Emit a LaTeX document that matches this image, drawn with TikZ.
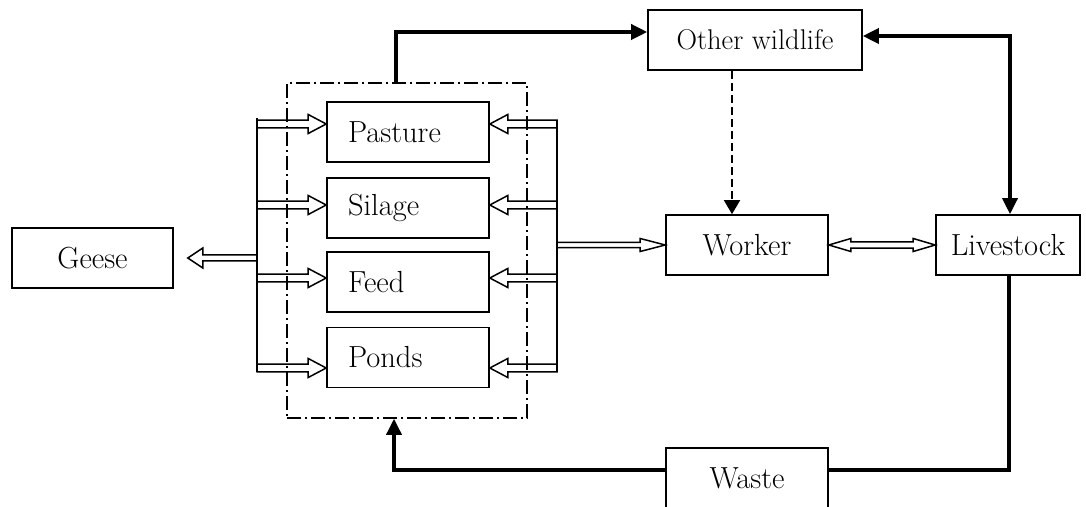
\documentclass[tikz,border=0pt]{standalone}
\usepackage{fontspec}
\usetikzlibrary{arrows.meta,calc}
\tikzset{
  box/.style={draw, line width=1.6pt, minimum height=60pt, inner sep=0pt, font=\fontsize{30.5}{36}\selectfont},
  lbox/.style={box, text width=120pt, align=left, inner xsep=21pt},
  hollowline/.style={draw, line width=1.5pt, line join=miter},
  thickline/.style={line width=3.5pt, line join=miter},
  flow/.style={thickline, -{Triangle[length=16pt,width=15pt]}},
  flowboth/.style={thickline, {Triangle[length=16pt,width=15pt]}-{Triangle[length=16pt,width=15pt]}},
  dashdot/.style={line width=1.5pt, dash pattern=on 14pt off 4pt on 2pt off 4pt},
  dasharrow/.style={line width=1.8pt, dash pattern=on 8pt off 4pt, -{Triangle[length=14pt,width=16pt]}}
}
% from, to, shaft half, head half, signed head length
\newcommand\hollowarrow[5]{%
  \draw[hollowline] let \p1=(#1), \p2=(#2) in
    ({\x1},{\y1+#3pt}) -- ({\x2+(#5pt)},{\y1+#3pt}) -- ({\x2+(#5pt)},{\y1+#4pt}) -- ({\x2},{\y1})
    -- ({\x2+(#5pt)},{\y1-#4pt}) -- ({\x2+(#5pt)},{\y1-#3pt}) -- ({\x1},{\y1-#3pt}) -- cycle;}
% from (left), to (right), shaft half, head half, head length
\newcommand\dblhollow[5]{%
  \draw[hollowline] let \p1=(#1), \p2=(#2) in
    ({\x1},{\y1}) -- ({\x1+#5pt},{\y1+#4pt}) -- ({\x1+#5pt},{\y1+#3pt}) -- ({\x2-#5pt},{\y1+#3pt})
    -- ({\x2-#5pt},{\y1+#4pt}) -- ({\x2},{\y1}) -- ({\x2-#5pt},{\y1-#4pt}) -- ({\x2-#5pt},{\y1-#3pt})
    -- ({\x1+#5pt},{\y1-#3pt}) -- ({\x1+#5pt},{\y1-#4pt}) -- cycle;}
\begin{document}
\begin{tikzpicture}[x=1pt,y=1pt]
\useasboundingbox (0,0) rectangle (1086,506);
% nodes
\node[box, minimum width=161pt] (geese) at (92.5,248) {Geese};
\node[lbox] (pasture) at (408,374) {Pasture};
\node[lbox] (silage) at (408,298) {Silage};
\node[lbox] (feed) at (408,224) {Feed};
\node[lbox] (ponds) at (408,148.5) {Ponds};
\node[box, minimum width=214pt, font=\fontsize{28.5}{34}\selectfont] (wild) at (755,466) {Other wildlife};
\node[box, minimum width=162pt] (worker) at (747,261) {Worker};
\node[box, minimum width=144pt] (live) at (1008,261) {Livestock};
\node[box, minimum width=162pt] (waste) at (747,28) {Waste};
% coordinates on the collector lines
\coordinate (l1) at (257,382); \coordinate (l2) at (257,301);
\coordinate (l3) at (257,228); \coordinate (l4) at (257,138);
\coordinate (r1) at (557,382); \coordinate (r2) at (557,301);
\coordinate (r3) at (557,228); \coordinate (r4) at (557,138);
\coordinate (gs) at (257,248);
% collector lines
\draw[line width=1.5pt] ($(l1)+(0,6)$) -- ($(l4)+(0,-4)$);
\draw[line width=1.5pt] ($(r1)+(0,4)$) -- ($(r4)+(0,-4)$);
% hollow arrows into group boxes
\hollowarrow{l1}{pasture.west}{3.8}{9.5}{-18}
\hollowarrow{l2}{silage.west}{3.8}{9.5}{-18}
\hollowarrow{l3}{feed.west}{3.8}{9.5}{-18}
\hollowarrow{l4}{ponds.west}{3.8}{9.5}{-18}
\hollowarrow{r1}{pasture.east}{3.8}{9.5}{18}
\hollowarrow{r2}{silage.east}{3.8}{9.5}{18}
\hollowarrow{r3}{feed.east}{3.8}{9.5}{18}
\hollowarrow{r4}{ponds.east}{3.8}{9.5}{18}
\hollowarrow{gs}{$(geese.east)+(14,0)$}{3}{10}{15}
\coordinate (wk) at (557,261);
\hollowarrow{wk}{worker.west}{2.6}{6.5}{-25}
\dblhollow{worker.east}{live.west}{3.2}{6.5}{22}
% dash-dot group frame
\node[draw, dashdot, minimum width=240pt, minimum height=335pt, inner sep=0pt] (group) at (407,255.5) {};
% thick flows
\coordinate (wj) at (396,474);
\draw[flow] (group.north -| wj) -- (wj) -- (wild.west |- wj);
\coordinate (lj) at (1010,470);
\draw[flowboth] (live.north -| lj) -- (lj) -- (wild.east |- lj);
\coordinate (bj) at (1009,36);
\draw[thickline] (live.south -| bj) -- (bj) -- (waste.east |- bj);
\coordinate (bk) at (394,36);
\draw[flow] (waste.west |- bk) -- (bk) -- (group.south -| bk);
\coordinate (dj) at (732,0);
\draw[dasharrow] (wild.south -| dj) -- (worker.north -| dj);
\end{tikzpicture}
\end{document}
